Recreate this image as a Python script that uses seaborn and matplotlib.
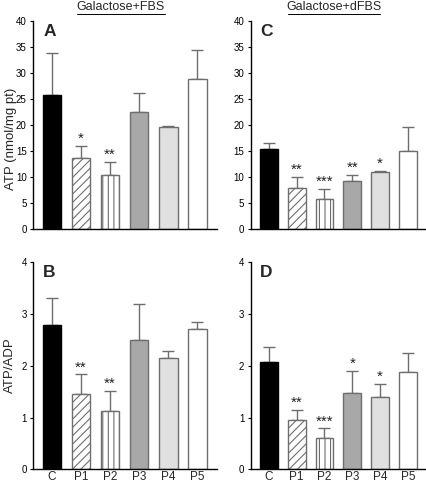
import numpy as np
import pandas as pd
import matplotlib
matplotlib.use("Agg")
import matplotlib.pyplot as plt
import seaborn as sns
from matplotlib.lines import Line2D

groups = ["C", "P1", "P2", "P3", "P4", "P5"]

# ATP (nmol/mg pt)
atp_fbs = [25.8, 13.5, 10.3, 22.5, 19.5, 28.7]
atp_fbs_err = [7.9, 2.4, 2.6, 3.5, 0.3, 5.7]
atp_fbs_sig = ["", "*", "**", "", "", ""]

atp_dfbs = [15.3, 7.9, 5.8, 9.2, 10.9, 15.0]
atp_dfbs_err = [1.2, 2.0, 1.9, 1.2, 0.2, 4.5]
atp_dfbs_sig = ["", "**", "***", "**", "*", ""]

# ATP/ADP ratio
ratio_fbs = [2.78, 1.45, 1.13, 2.50, 2.15, 2.70]
ratio_fbs_err = [0.53, 0.38, 0.39, 0.69, 0.13, 0.13]
ratio_fbs_sig = ["", "**", "**", "", "", ""]

ratio_dfbs = [2.06, 0.95, 0.61, 1.47, 1.39, 1.87]
ratio_dfbs_err = [0.29, 0.20, 0.18, 0.43, 0.26, 0.37]
ratio_dfbs_sig = ["", "**", "***", "*", "*", ""]

fills = ["#000000", "#ffffff", "#ffffff", "#a8a8a8", "#e0e0e0", "#ffffff"]
edges = ["#000000", "#6e6e6e", "#6e6e6e", "#6e6e6e", "#6e6e6e", "#6e6e6e"]
hatches = ["", "////", "|||", "", "", ""]

sns.set_theme(style="ticks")
plt.rcParams["font.family"] = ["Liberation Sans", "DejaVu Sans"]
plt.rcParams["hatch.linewidth"] = 0.8
plt.rcParams["hatch.color"] = "#6e6e6e"

fig = plt.figure(figsize=(4.27, 4.87), dpi=100)


def draw_panel(rect, vals, errs, sig, letter, ymax, yticks, ylabel, xlabels,
               label_pos=None):
    ax = fig.add_axes(rect)
    df = pd.DataFrame({"group": groups, "value": vals})
    sns.barplot(data=df, x="group", y="value", hue="group", palette=fills,
                legend=False, width=0.64, ax=ax, saturation=1)
    for patch, ec, h in zip(ax.patches, edges, hatches):
        patch.set_edgecolor(ec)
        patch.set_linewidth(1.0)
        patch.set_hatch(h)
    x = np.arange(len(groups))
    lower = np.zeros(len(groups))
    ax.errorbar(x, vals, yerr=[lower, errs], fmt="none", ecolor="#6e6e6e",
                elinewidth=1.0, capsize=4, capthick=1.0, zorder=0.5)
    for xi, v, e, s in zip(x, vals, errs, sig):
        if s:
            ax.annotate(s, (xi, v + e), xytext=(0, 0), textcoords="offset points",
                        ha="center", va="bottom", fontsize=11, color="#222222")
    ax.set_xlim(-0.65, 5.68)
    ax.set_ylim(0, ymax)
    ax.set_yticks(yticks)
    ax.tick_params(axis="y", labelsize=7, length=2.5, width=0.8, pad=2,
                   colors="#000000")
    ax.tick_params(axis="x", length=0, labelsize=8.5, pad=1)
    ax.set_xlabel("")
    ax.set_ylabel(ylabel, fontsize=9.5)
    if label_pos is not None:
        ax.yaxis.set_label_coords(*label_pos)
    if xlabels:
        ax.set_xticks(x, groups)
    else:
        ax.set_xticks(x, [""] * len(groups))
    sns.despine(ax=ax)
    for side in ["left", "bottom"]:
        ax.spines[side].set_color("#000000")
        ax.spines[side].set_linewidth(1.0)
    ax.text(0.055, 0.985, letter, transform=ax.transAxes, ha="left", va="top",
            fontsize=12.5, fontweight="bold")
    return ax


draw_panel([0.0773, 0.5304, 0.431, 0.4271], atp_fbs, atp_fbs_err, atp_fbs_sig,
           "A", 40, range(0, 41, 5), "ATP (nmol/mg pt)", False, (-0.085, 0.43))
draw_panel([0.587, 0.5304, 0.413, 0.4271], atp_dfbs, atp_dfbs_err, atp_dfbs_sig,
           "C", 40, range(0, 41, 5), "", False)
draw_panel([0.0773, 0.036, 0.431, 0.4266], ratio_fbs, ratio_fbs_err, ratio_fbs_sig,
           "B", 4, range(0, 5), "ATP/ADP", True, (-0.09, 0.5))
draw_panel([0.587, 0.036, 0.413, 0.4266], ratio_dfbs, ratio_dfbs_err, ratio_dfbs_sig,
           "D", 4, range(0, 5), "", True)

# underlined condition headers
for cx, x0, x1, title in [(121 / 427, 77 / 427, 165 / 427, "Galactose+FBS"),
                          (334 / 427, 288 / 427, 380 / 427, "Galactose+dFBS")]:
    fig.text(cx, 1 - 7 / 487, title, ha="center", va="center", fontsize=9)
    fig.add_artist(Line2D([x0, x1], [1 - 14 / 487, 1 - 14 / 487],
                          color="#000000", linewidth=0.7))

fig.savefig("out.png", dpi=100)
